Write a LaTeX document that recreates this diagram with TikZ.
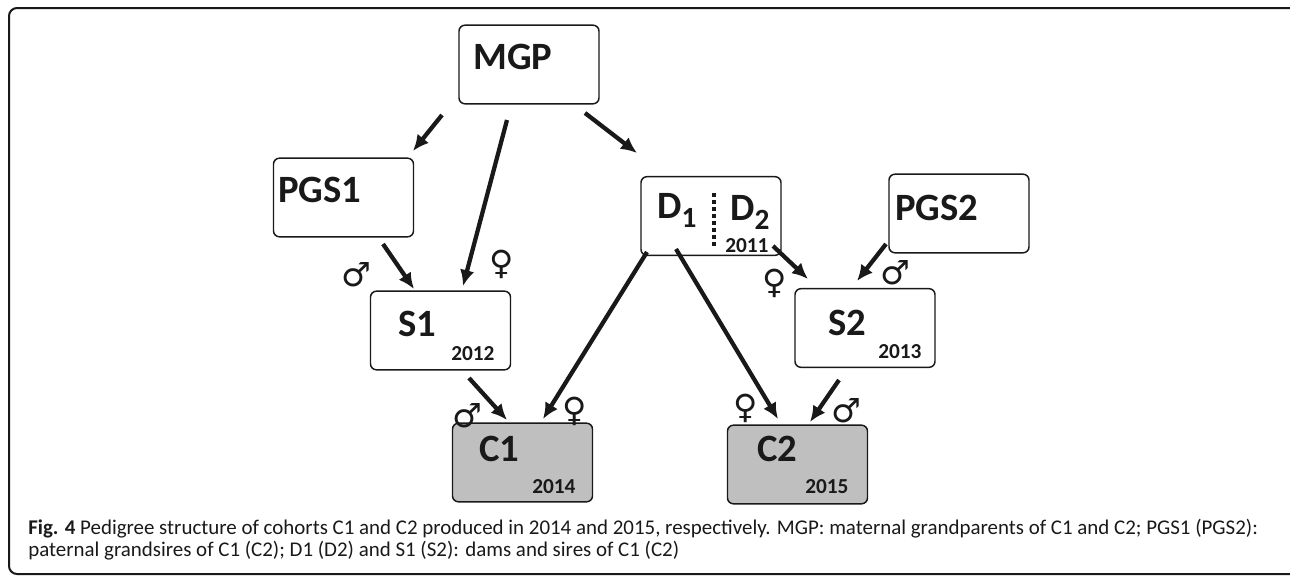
\documentclass[tikz,border=0pt]{standalone}
\usepackage{fontspec}
\setmainfont{Carlito}
\newfontfamily\symfont{DejaVu Sans}
\usetikzlibrary{arrows.meta,calc}
\definecolor{ink}{RGB}{25,25,25}
\definecolor{cohort}{RGB}{191,191,191}
\tikzset{
  % ---- boxes ------------------------------------------------------------
  pbox/.style={
    rounded corners=4.5pt, draw=ink, line width=1.1pt, fill=white,
    minimum width=105pt, minimum height=59pt, inner sep=0pt},
  cbox/.style={pbox, fill=cohort},
  % ---- labels -----------------------------------------------------------
  lbl/.style={font=\bfseries\fontsize{29}{29}\selectfont, text=ink,
    inner sep=0pt, anchor=base west},
  yr/.style={font=\bfseries\fontsize{16}{16}\selectfont, text=ink,
    inner sep=0pt, anchor=base west},
  sex/.style={font=\symfont\fontsize{25}{25}\selectfont, text=ink, inner sep=0pt},
  captxt/.style={font=\fontsize{15.7}{15.7}\selectfont, text=ink,
    inner sep=0pt, anchor=base west},
  % ---- arrows -----------------------------------------------------------
  ar/.style={-{Latex[length=12pt,width=11pt]}, draw=ink, line width=3.2pt},
}
\newcommand{\arr}[3]{\coordinate (#1s) at (#2); \coordinate (#1e) at (#3);
  \draw[ar] (#1s) -- (#1e);}
\newcommand{\sub}[1]{\raisebox{-7pt}{\fontsize{22}{22}\selectfont #1}}

\begin{document}
\begin{tikzpicture}[x=0.75pt,y=-0.75pt]

\useasboundingbox (0,0) rectangle (1290,576);

% ---- frame ----------------------------------------------------------------
\draw[ink, line width=1.5pt, rounded corners=6pt]
  (1300,8) -- (9,8) -- (9,574) -- (1300,574);

% ---- boxes ----------------------------------------------------------------
\node[pbox] (mgp)  at (529,64.5)   {};
\node[pbox] (pgs1) at (343.5,197.5) {};
\node[pbox] (s1)   at (440.5,330.5) {};
\node[pbox] (d)    at (711,216)     {};
\node[pbox] (pgs2) at (959,213.5)   {};
\node[pbox] (s2)   at (865,328)     {};
\node[cbox] (c1)   at (522.5,462.5) {};
\node[cbox] (c2)   at (797.5,464.5) {};

% ---- box texts ------------------------------------------------------------
\node[lbl] (tmgp)  at (473,69)  {MGP};
\node[lbl] (tpgs1) at (278,202) {PGS1};
\node[lbl] (ts1)   at (398,336) {S1};
\node[yr]  (ys1)   at (451,360) {2012};
\node[lbl] (td1)   at (657,218) {D\sub{1}};
\node[lbl] (td2)   at (730,220) {D\sub{2}};
\node[yr]  (yd)    at (725,252) {2011};
\node[lbl] (tpgs2) at (895,220) {PGS2};
\node[lbl] (ts2)   at (828,335) {S2};
\node[yr]  (ys2)   at (878,358) {2013};
\node[lbl] (tc1)   at (479,461) {C1};
\node[yr]  (yc1)   at (532,493) {2014};
\node[lbl] (tc2)   at (757,461) {C2};
\node[yr]  (yc2)   at (805,493) {2015};

\draw[ink, line width=2.5pt, dash pattern=on 3pt off 2.2pt] (714,193) -- (714,246);

% ---- arrows ---------------------------------------------------------------
\arr{mp}{442,115}{413,151}
\arr{ms}{507,120}{463,286}
\arr{md}{585,113}{637,153}
\arr{ps}{383,244}{414,289}
\arr{sc}{469,378}{507,420}
\arr{dc}{647,252}{543,419}
\arr{dk}{676,249}{778,419}
\arr{dt}{773,246}{808,279}
\arr{qt}{886,244}{857,281}
\arr{tk}{839,380}{810,422}

% ---- sexes ----------------------------------------------------------------
\node[sex] (m1) at (356,275) {♂};
\node[sex] (f1) at (502,264) {♀};
\node[sex] (m2) at (467,416) {♂};
\node[sex] (f2) at (575,411) {♀};
\node[sex] (f3) at (746,408) {♀};
\node[sex] (m3) at (846,411) {♂};
\node[sex] (f4) at (775,283) {♀};
\node[sex] (m4) at (895,273) {♂};

% ---- caption --------------------------------------------------------------
\node[captxt] (caption1) at (28,534)
  {\textbf{Fig. 4} Pedigree structure of cohorts C1 and C2 produced in 2014 and 2015,
   respectively. MGP: maternal grandparents of C1 and C2; PGS1 (PGS2):};
\node[captxt] (caption2) at (28,556)
  {paternal grandsires of C1 (C2); D1 (D2) and S1 (S2): dams and sires of C1 (C2)};

\end{tikzpicture}
\end{document}
